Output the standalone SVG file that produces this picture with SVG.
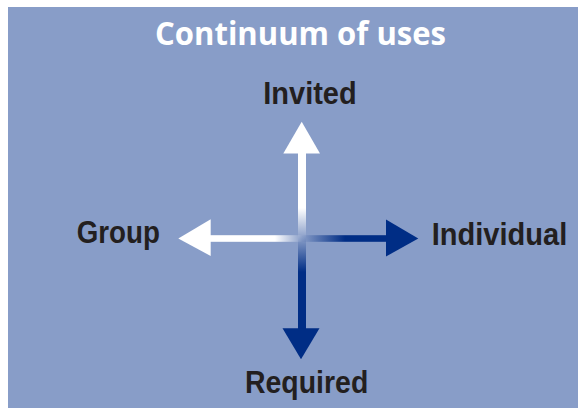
<svg xmlns="http://www.w3.org/2000/svg" width="578" height="408" viewBox="0 0 578 408">
<style>
.lbl{font-family:"Liberation Sans","Open Sans",Arial,sans-serif;font-weight:bold;font-size:30.5px;fill:#231f20}
.title{font-family:"Open Sans","Liberation Sans",Arial,sans-serif;font-weight:bold;font-size:32px;fill:#ffffff}
.white{fill:#ffffff}
.dark{fill:#002d85}
</style>
<defs>
<linearGradient id="gUp" gradientUnits="userSpaceOnUse" x1="0" y1="238" x2="0" y2="208">
<stop offset="0" stop-color="#ffffff" stop-opacity="0"/>
<stop offset="1" stop-color="#ffffff" stop-opacity="1"/>
</linearGradient>
<linearGradient id="gLeft" gradientUnits="userSpaceOnUse" x1="302" y1="0" x2="275" y2="0">
<stop offset="0" stop-color="#ffffff" stop-opacity="0"/>
<stop offset="1" stop-color="#ffffff" stop-opacity="1"/>
</linearGradient>
<linearGradient id="gDown" gradientUnits="userSpaceOnUse" x1="0" y1="238" x2="0" y2="272">
<stop offset="0" stop-color="#002d85" stop-opacity="0"/>
<stop offset="1" stop-color="#002d85" stop-opacity="1"/>
</linearGradient>
<linearGradient id="gRight" gradientUnits="userSpaceOnUse" x1="302" y1="0" x2="345" y2="0">
<stop offset="0" stop-color="#002d85" stop-opacity="0"/>
<stop offset="1" stop-color="#002d85" stop-opacity="1"/>
</linearGradient>
</defs>
<rect x="0" y="0" width="578" height="408" fill="#ffffff"/>
<rect id="background" x="8" y="7" width="570" height="401" fill="#889dc8"/>
<g id="title"><text class="title" x="155" y="45" textLength="291" lengthAdjust="spacingAndGlyphs">Continuum of uses</text></g>
<g id="connectors">
<rect x="298" y="152" width="8" height="86" fill="url(#gUp)"/>
<polygon class="white" points="301.7,121.7 283.3,153.5 320,153.5"/>
<rect x="298" y="238" width="8" height="92" fill="url(#gDown)"/>
<polygon class="dark" points="301,359.3 282.5,328.3 319.5,328.3"/>
<rect x="209" y="235.2" width="93" height="6.6" fill="url(#gLeft)"/>
<polygon class="white" points="178.3,238.5 210.7,219.3 210.7,256"/>
<rect x="302" y="235.2" width="86" height="6.6" fill="url(#gRight)"/>
<polygon class="dark" points="418.3,238.5 386,219.5 386,256.5"/>
</g>
<g id="node-invited"><text class="lbl" x="263.3" y="104.3" textLength="93.4" lengthAdjust="spacingAndGlyphs">Invited</text></g>
<g id="node-group"><text class="lbl" x="76.7" y="243.3" textLength="83.3" lengthAdjust="spacingAndGlyphs">Group</text></g>
<g id="node-individual"><text class="lbl" x="431.7" y="245" textLength="135.6" lengthAdjust="spacingAndGlyphs">Individual</text></g>
<g id="node-required"><text class="lbl" x="245" y="392.7" textLength="123.3" lengthAdjust="spacingAndGlyphs">Required</text></g>
</svg>
